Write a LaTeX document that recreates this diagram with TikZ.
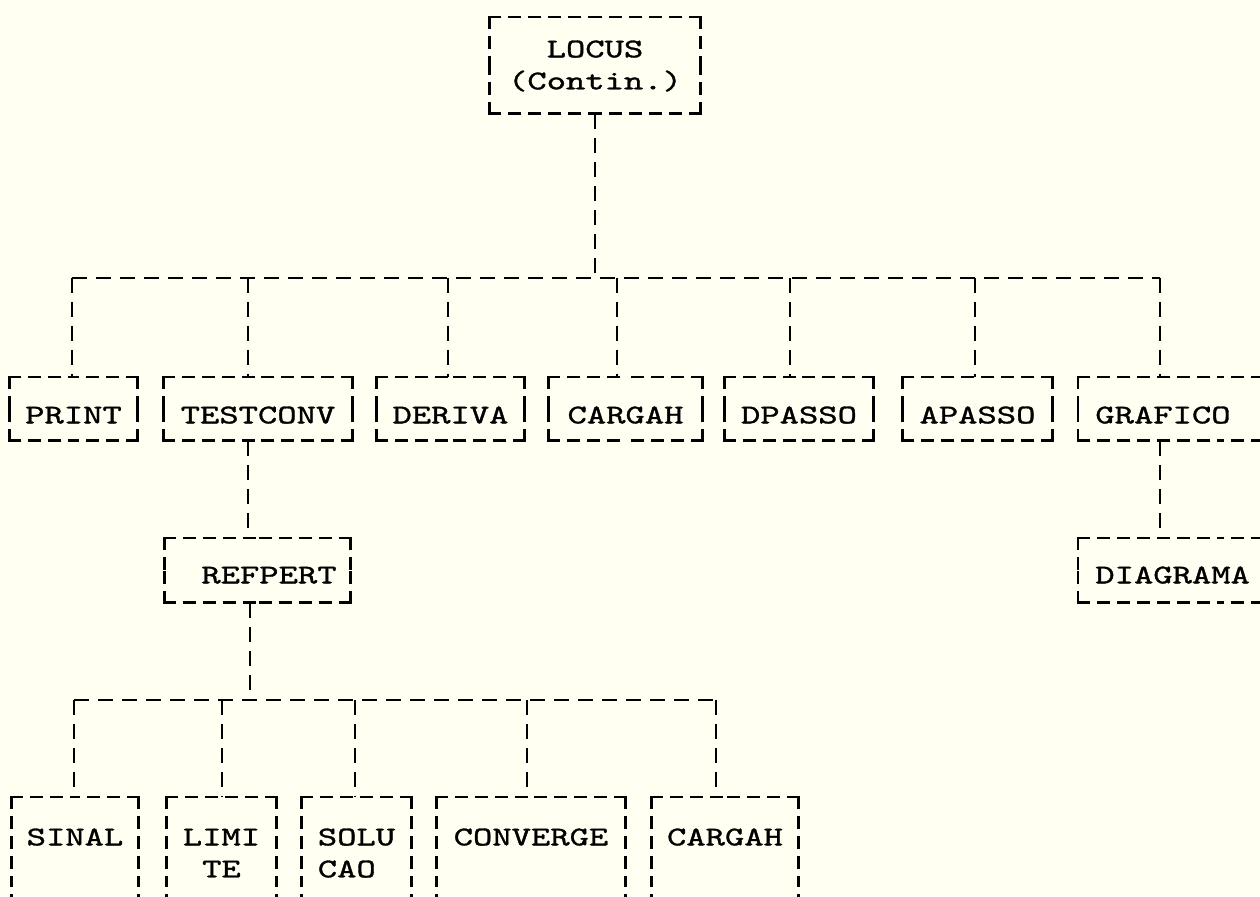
\documentclass[tikz,border=0pt]{standalone}
\usepackage{fontspec}
\newfontfamily\dotfam[FakeStretch=1.36,FakeBold=1.2]{lmmono10-regular.otf}
\newcommand{\dotfont}{\dotfam\fontsize{15.4pt}{18.2pt}\selectfont}
\definecolor{paper}{RGB}{255,255,242}
% dashed frame drawn from each corner inwards, so that every corner is solid
\newcommand{\dbox}[1]{%
  \draw[boxline] (#1.north west) -- (#1.north);
  \draw[boxline] (#1.north east) -- (#1.north);
  \draw[boxline] (#1.south west) -- (#1.south);
  \draw[boxline] (#1.south east) -- (#1.south);
  \draw[boxline] (#1.north west) -- (#1.west);
  \draw[boxline] (#1.south west) -- (#1.west);
  \draw[boxline] (#1.north east) -- (#1.east);
  \draw[boxline] (#1.south east) -- (#1.east);}
\begin{document}
\begin{tikzpicture}[x=0.02cm,y=-0.02cm,
  box/.style={rectangle, inner sep=0pt, anchor=north, align=center, font=\dotfont},
  boxline/.style={line width=1.4pt, line cap=rect, dash pattern=on 0.21cm off 0.19cm},
  rowA/.style={box, text height=0.92cm, text depth=0.34cm},
  rowB/.style={box, text height=0.9cm, text depth=0.38cm},
  rowC/.style={box, text height=0.96cm, text depth=2.4cm},
  topbox/.style={box, text height=0.8cm, text depth=1.12cm},
  openright/.style={anchor=north west, text width=5cm, align=left, inner xsep=0.34cm},
  conn/.style={line width=1.4pt, dash pattern=on 0.3cm off 0.18cm}]
\useasboundingbox (0,0) rectangle (1260,896);
\fill[paper] (0,0) rectangle (1260,896);
\clip (0,0) rectangle (1260,896);

% top
\node[topbox, minimum width=4.2cm] (locus) at (595,17)
  {\begin{tabular}[t]{@{}c@{}}LOCUS\\(Contin.)\end{tabular}};

% row 1
\node[rowA, minimum width=2.54cm] (print)    at (73.5,377)  {PRINT};
\node[rowA, minimum width=3.76cm] (testconv) at (258,377)   {TESTCONV};
\node[rowA, minimum width=2.94cm] (deriva)   at (450.5,377) {DERIVA};
\node[rowA, minimum width=3.06cm] (cargahA)  at (625.5,377) {CARGAH};
\node[rowA, minimum width=2.96cm] (dpasso)   at (799,377)   {DPASSO};
\node[rowA, minimum width=2.98cm] (apasso)   at (977.5,377) {APASSO};
\node[rowA, openright] (grafico) at (1078,377) {GRAFICO};

% row 2
\node[rowB, minimum width=3.7cm] (refpert) at (257.5,538) {\hspace*{0.46cm}REFPERT};
\node[rowB, openright] (diagrama) at (1078,538) {DIAGRAMA};

% row 3
\node[rowC, minimum width=2.52cm] (sinal)    at (75,797)    {SINAL};
\node[rowC, minimum width=2.18cm] (limite)   at (221.5,797) {\begin{tabular}[t]{@{}c@{}}LIMI\\TE\end{tabular}};
\node[rowC, minimum width=2.18cm] (solu)     at (356.5,797) {\begin{tabular}[t]{@{}l@{}}SOLU\\CAO\end{tabular}};
\node[rowC, minimum width=3.76cm] (converge) at (531,797)   {CONVERGE};
\node[rowC, minimum width=2.92cm] (cargahB)  at (725,797)   {CARGAH};

\foreach \n in {locus,print,testconv,deriva,cargahA,dpasso,apasso,grafico,
                refpert,diagrama,sinal,limite,solu,converge,cargahB}{\dbox{\n}}

% upper bus
\coordinate (busAl) at (72,278);
\coordinate (busAr) at (1160,278);
\draw[conn] (busAl) -- (busAr);
\draw[conn] (locus.south) -- (locus.south |- busAl);
\foreach \n/\x in {print/72, testconv/248, deriva/448, cargahA/617, dpasso/790, apasso/975, grafico/1160}{
  \coordinate (t\n) at (\x,278);
  \draw[conn] (t\n) -- (t\n |- \n.north);
}
\draw[conn] (ttestconv |- testconv.south) -- (ttestconv |- refpert.north);
\draw[conn] (tgrafico |- grafico.south) -- (tgrafico |- diagrama.north);

% lower bus
\coordinate (busBl) at (74,700);
\coordinate (busBr) at (716,700);
\coordinate (busBt) at (250,700);
\draw[conn] (busBl) -- (busBr);
\draw[conn] (busBt |- refpert.south) -- (busBt);
\foreach \n/\x in {sinal/74, limite/222, solu/355, converge/527, cargahB/716}{
  \coordinate (u\n) at (\x,700);
  \draw[conn] (u\n) -- (u\n |- \n.north);
}
\end{tikzpicture}
\end{document}
